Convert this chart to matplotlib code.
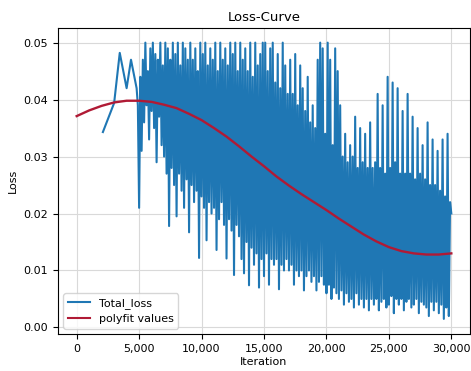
import numpy as np
import matplotlib
matplotlib.use('Agg')
from matplotlib import pyplot as plt
from matplotlib.ticker import FuncFormatter

# early iterations, sparse records
early_iter = [2100, 3000, 3450, 4000, 4350, 4800, 4900]
early_loss = [0.0343, 0.0394, 0.0482, 0.0420, 0.0470, 0.0420, 0.0390]

# dense records, every 100 iterations from 5000 to 30000 (one row per 1000)
loss_rows = [
    [0.021, 0.044, 0.031, 0.047, 0.036, 0.050, 0.039, 0.045, 0.033, 0.049],
    [0.038, 0.050, 0.035, 0.048, 0.029, 0.047, 0.037, 0.050, 0.032, 0.046],
    [0.030, 0.050, 0.027, 0.049, 0.0178, 0.047, 0.028, 0.050, 0.025, 0.048],
    [0.0195, 0.050, 0.027, 0.046, 0.024, 0.050, 0.021, 0.049, 0.026, 0.047],
    [0.0167, 0.050, 0.025, 0.047, 0.022, 0.049, 0.024, 0.045, 0.0122, 0.050],
    [0.023, 0.048, 0.021, 0.050, 0.0153, 0.046, 0.022, 0.049, 0.020, 0.047],
    [0.021, 0.050, 0.0136, 0.045, 0.019, 0.050, 0.022, 0.047, 0.018, 0.049],
    [0.0121, 0.046, 0.019, 0.050, 0.017, 0.048, 0.0092, 0.050, 0.018, 0.045],
    [0.016, 0.050, 0.012, 0.047, 0.0095, 0.049, 0.015, 0.045, 0.0074, 0.050],
    [0.014, 0.044, 0.011, 0.050, 0.013, 0.046, 0.007, 0.048, 0.012, 0.050],
    [0.009, 0.050, 0.013, 0.045, 0.0075, 0.049, 0.012, 0.050, 0.011, 0.043],
    [0.012, 0.048, 0.0067, 0.042, 0.011, 0.050, 0.010, 0.046, 0.012, 0.041],
    [0.010, 0.047, 0.011, 0.041, 0.0075, 0.048, 0.010, 0.039, 0.009, 0.046],
    [0.010, 0.042, 0.0065, 0.038, 0.009, 0.044, 0.010, 0.036, 0.008, 0.039],
    [0.009, 0.035, 0.0065, 0.047, 0.008, 0.050, 0.009, 0.049, 0.0075, 0.034],
    [0.006, 0.050, 0.0075, 0.047, 0.005, 0.032, 0.007, 0.049, 0.006, 0.045],
    [0.005, 0.039, 0.0065, 0.030, 0.004, 0.034, 0.006, 0.029, 0.0045, 0.032],
    [0.005, 0.030, 0.0035, 0.037, 0.006, 0.028, 0.004, 0.035, 0.005, 0.029],
    [0.0035, 0.034, 0.005, 0.028, 0.003, 0.036, 0.005, 0.028, 0.004, 0.029],
    [0.005, 0.041, 0.003, 0.028, 0.0045, 0.039, 0.005, 0.027, 0.0035, 0.044],
    [0.004, 0.028, 0.0055, 0.043, 0.0025, 0.029, 0.005, 0.042, 0.004, 0.027],
    [0.005, 0.038, 0.003, 0.027, 0.0045, 0.041, 0.005, 0.027, 0.0035, 0.037],
    [0.004, 0.026, 0.005, 0.035, 0.0025, 0.027, 0.0045, 0.032, 0.004, 0.026],
    [0.0035, 0.036, 0.002, 0.025, 0.0045, 0.033, 0.003, 0.025, 0.0045, 0.031],
    [0.0025, 0.024, 0.004, 0.033, 0.0015, 0.023, 0.0035, 0.034, 0.002, 0.022],
    [0.020],
]

# polyfit curve, every 1000 iterations
fit_iter = list(range(0, 30001, 1000))
fit_loss = [0.0371, 0.0381, 0.0389, 0.0395, 0.0398, 0.0398, 0.0396, 0.0391,
            0.0385, 0.0375, 0.0364, 0.0350, 0.0335, 0.0318, 0.0300, 0.0283,
            0.0265, 0.0249, 0.0234, 0.0220, 0.0206, 0.0191, 0.0177, 0.0163,
            0.0151, 0.0141, 0.0134, 0.0130, 0.0128, 0.0128, 0.0130]

dense_loss = [v for row in loss_rows for v in row]
dense_iter = list(range(5000, 5000 + 100 * len(dense_loss), 100))
iters = early_iter + dense_iter
loss = early_loss + dense_loss

plt.rcParams['font.size'] = 8
fig = plt.figure(figsize=(4.71, 3.71), dpi=100)
ax = fig.add_axes([0.123, 0.099, 0.875, 0.826])
ax.grid(color='#d9d9d9', linewidth=0.8)
ax.set_axisbelow(True)
ax.plot(iters, loss, color='#1f77b4', linewidth=1.5, label='Total_loss')
ax.plot(fit_iter, fit_loss, color='#b01a35', linewidth=1.7, label='polyfit values')
ax.set_xlim(-1500, 31500)
ax.set_ylim(-0.0012, 0.0526)
ax.set_xticks([0, 5000, 10000, 15000, 20000, 25000, 30000])
ax.xaxis.set_major_formatter(FuncFormatter(lambda v, p: '{:,.0f}'.format(v)))
ax.set_yticks([0.0, 0.01, 0.02, 0.03, 0.04, 0.05])
ax.set_yticklabels(['0.00', '0.01', '0.02', '0.03', '0.04', '0.05'])
ax.set_xlabel('Iteration', labelpad=2)
ax.set_ylabel('Loss')
ax.set_title('Loss-Curve', fontsize=9.5, pad=5)
leg = ax.legend(loc='lower left', fontsize=8)
for line in leg.get_lines():
    line.set_linewidth(1.5)

plt.savefig('out.png')
